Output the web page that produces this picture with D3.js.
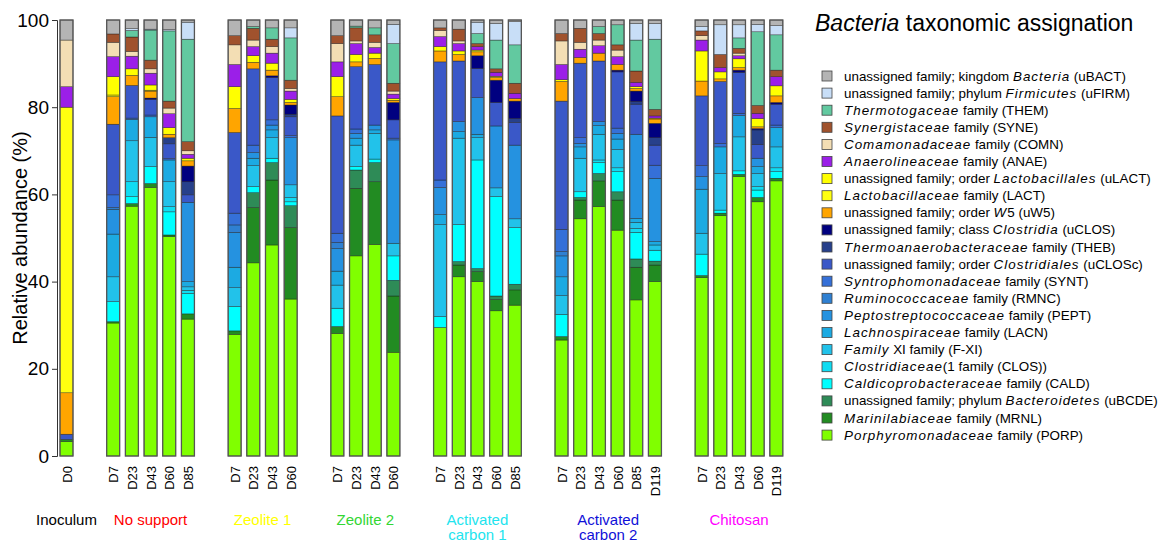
<!DOCTYPE html>
<html><head><meta charset="utf-8">
<script src="https://cdn.jsdelivr.net/npm/d3@7"></script>
<style>body{margin:0;background:#fff;font-family:Arial,"Liberation Sans",sans-serif}</style>
</head><body><svg id="c" width="1165" height="543"></svg>
<script>
// ---- categories ----
const samples = ["D0",
 "D7","D23","D43","D60","D85",
 "D7","D23","D43","D60",
 "D7","D23","D43","D60",
 "D7","D23","D43","D60","D85",
 "D7","D23","D43","D60","D85","D119",
 "D7","D23","D43","D60","D119"];
const groupNames = ["Inoculum","No support","Zeolite 1","Zeolite 2","Activated\ncarbon 1","Activated\ncarbon 2","Chitosan"];
const groupSizes = [1,5,4,4,5,6,5];
const groupColors = ["#000000","#ff0000","#ffff00","#33d633","#22e4ee","#1010d8","#ff00ff"];
const yTicks = [0,20,40,60,80,100];

// ---- series values (% per sample, bottom to top) ----
const PORP  = [3.3, 30.5,57.3,61.6,50.3,31.4, 27.9,44.3,48.4,36.0, 28.1,45.9,48.5,23.8, 29.5,41.1,40.0,33.3,34.6, 26.6,54.4,57.2,51.8,35.8,40.0, 40.9,55.1,64.1,58.3,63.1];
const MRNL  = [0.5, 0.3,0.6,0.9,0.4,1.2, 0.8,12.7,14.9,16.4, 1.6,15.5,14.4,12.9, 0,2.7,2.3,2.6,3.5, 0.8,4.3,5.9,6.9,7.5,3.8, 0.5,0.6,0.5,1.0,0.6];
const uBCDE = [0, 0,0,0,0,0, 0,3.4,4.0,5.0, 0,4.2,4.4,3.6, 0,0.8,0.7,0.8,1.3, 0,0.6,1.7,1.9,1.9,0.9, 0,0,0,0,0];
const CALD  = [0, 4.6,1.6,3.9,5.3,4.7, 5.6,1.4,1.0,0.9, 4.2,0.8,0.8,5.6, 2.5,8.5,24.9,22.8,13.0, 5.1,1.3,2.5,4.6,6.1,2.5, 4.9,0.7,0.8,1.7,1.5];
const CLOS  = [0, 0,3.4,0,1.2,0.7, 0,0,0,1.0, 0,0,0,0, 0,0,0,0,0, 0,0,0.6,0.9,0.9,0, 0,0,0,0.8,0.9];
const FXI   = [0, 5.7,9.4,6.7,5.7,0.8, 4.3,4.8,4.7,2.9, 5.3,4.9,5.9,2.9, 21.1,19.8,5.1,2.0,2.0, 4.3,7.7,5.9,4.2,1.4,1.2, 4.8,8.4,7.8,3.0,4.8];
const LACN  = [0, 9.8,4.9,4.7,5.0,1.2, 4.7,1.7,1.8,0, 3.2,1.6,0.8,0, 2.3,1.5,0.8,0,0, 4.3,2.6,2.0,2.4,0.9,0.8, 10.1,6.1,4.9,1.6,4.4];
const PEPT  = [0, 5.7,0,0,0,18.2, 8.0,1.3,1.1,10.8, 5.2,1.1,1.1,23.7, 6.2,2.3,8.4,14.2,16.9, 4.8,0.8,0.9,1.3,19.3,14.5, 2.9,0,0,1.9,0];
const RMNC  = [0, 0.4,0,0,0,0, 1.7,0,0,0, 1.4,0,0,0, 0,0,0,0,0, 1.0,0,0,0,0,0, 0,0,0,0,0];
const SYNT  = [0, 2.9,0.3,0.4,0.3,0, 2.7,1.7,1.2,0.5, 2.1,1.0,0,0.4, 1.7,0,0,0,0, 5.1,1.3,0,1.2,0,3.0, 2.5,0.8,0.5,0,0.6];
const uCLOSc= [1.2, 16.2,7.5,3.6,3.4,1.7, 18.5,17.5,9.7,4.3, 26.9,14.3,13.9,4.2, 27.1,13.9,6.7,5.4,5.2, 29.4,17.1,13.9,12.9,6.9,4.6, 16.0,14.2,9.4,3.2,4.8];
const THEB  = [0, 0,0,0,1.4,3.0, 0,0,0,0.6, 0,0,0,0, 0,0,0,0,0.9, 0,0,0,0,0.6,1.7, 0,0,0,3.3,0];
const uCLOS = [0, 0,0,0.3,0,3.6, 0,0,0.4,2.1, 0,0,0,4.0, 0,0,2.9,5.1,4.0, 0,0,0,0.4,2.4,3.3, 0,0,0.5,0.3,0.4];
const uW5   = [9.5, 6.3,2.3,1.6,0.8,1.2, 5.5,1.5,1.3,0.6, 4.4,1.1,1.4,0.5, 2.5,1.5,0.9,0.6,0.6, 4.5,1.3,1.8,1.3,0.6,1.0, 3.4,0.6,0.6,0.4,1.5];
const LACT  = [65.5, 0.4,0,0.2,0,0, 0,0,0,0, 0,0,0,0, 0,0,0,0,0, 0,0,0,0,0,0, 0,0,0,0,0];
const uLACT = [0, 4.2,1.5,1.2,1.5,0.6, 5.0,1.5,1.6,0.7, 4.6,1.7,1.2,0.4, 1.0,0.8,0.4,0.3,0, 0.4,0,0,0,0.4,0.2, 6.9,1.6,2.0,1.9,2.3];
const ANAE  = [4.7, 4.6,2.9,2.7,3.2,0.9, 5.1,2.1,2.3,1.9, 3.4,2.5,1.3,1.0, 2.3,1.7,0.8,0.9,1.2, 3.5,1.9,1.7,1.8,1.0,0.5, 2.5,1.0,0.7,1.2,2.1];
const COMN  = [10.7, 3.3,1.1,1.0,1.3,0.8, 4.5,1.5,1.5,0.6, 4.2,0.6,1.2,0.7, 1.4,0.6,0,0,0, 5.4,1.6,1.3,1.5,0,0, 1.0,0,0.6,0,0];
const SYNE  = [0, 1.9,3.3,2.0,1.6,2.1, 2.1,2.7,1.7,1.9, 1.8,3.0,1.7,1.8, 0.6,2.7,0.7,0.8,2.3, 1.7,3.2,1.5,1.2,2.6,1.5, 1.1,3.0,1.1,1.8,1.5];
const THEM  = [0, 0,1.5,6.9,16.1,23.5, 0,0.4,2.6,9.7, 0,0.4,1.6,9.1, 0,0,2.3,6.6,8.8, 0,0,1.6,4.6,7.1,16.1, 0,0,2.4,16.9,8.1];
const uFIRM = [0, 0,0.4,0.2,0.3,3.9, 0,0,0,2.3, 0,0,0,4.4, 0,0,2.6,3.8,5.3, 0,0,0,0,3.8,3.6, 1.0,6.8,3.0,1.7,2.1];
const uBACT = [4.6, 3.2,2.0,2.1,2.2,0.5, 3.6,1.5,1.8,1.8, 3.6,1.4,1.8,1.0, 1.8,2.1,0.5,0.8,0.4, 3.1,1.9,1.5,1.1,0.8,0.8, 1.5,1.1,1.1,1.0,1.3];

// ---- series (top-to-bottom as in legend) ----
const seriesKeys = ["uBACT","uFIRM","THEM","SYNE","COMN","ANAE","uLACT","LACT","uW5","uCLOS","THEB","uCLOSc","SYNT","RMNC","PEPT","LACN","FXI","CLOS","CALD","uBCDE","MRNL","PORP"];
const seriesValues = {uBACT,uFIRM,THEM,SYNE,COMN,ANAE,uLACT,LACT,uW5,uCLOS,THEB,uCLOSc,SYNT,RMNC,PEPT,LACN,FXI,CLOS,CALD,uBCDE,MRNL,PORP};
const seriesColors = ["#b4b4b4","#c8def7","#62c9a0","#a0522d","#f3deb4","#9b1fe8","#ffff00","#ffff10","#ffa500","#000080","#27408b","#3a58c8","#3570d8","#2f80d2","#2592e0","#1caae2","#22c2ea","#10dcf2","#00ffff","#2e8b57","#228b22","#80ff00"];
const legendLabels = [
 [["unassigned family; kingdom ",0],["Bacteria",1],[" (uBACT)",0]],
 [["unassigned family; phylum ",0],["Firmicutes",1],[" (uFIRM)",0]],
 [["Thermotogaceae",1],[" family (THEM)",0]],
 [["Synergistaceae",1],[" family (SYNE)",0]],
 [["Comamonadaceae",1],[" family (COMN)",0]],
 [["Anaerolineaceae",1],[" family (ANAE)",0]],
 [["unassigned family; order ",0],["Lactobacillales",1],[" (uLACT)",0]],
 [["Lactobacillaceae",1],[" family (LACT)",0]],
 [["unassigned family; order ",0],["W",1],["5 (uW5)",0]],
 [["unassigned family; class ",0],["Clostridia",1],[" (uCLOS)",0]],
 [["Thermoanaerobacteraceae",1],[" family (THEB)",0]],
 [["unassigned family; order ",0],["Clostridiales",1],[" (uCLOSc)",0]],
 [["Syntrophomonadaceae",1],[" family (SYNT)",0]],
 [["Ruminococcaceae",1],[" family (RMNC)",0]],
 [["Peptostreptococcaceae",1],[" family (PEPT)",0]],
 [["Lachnospiraceae",1],[" family (LACN)",0]],
 [["Family",1],[" XI family (F-XI)",0]],
 [["Clostridiaceae",1],["(1 family (CLOS))",0]],
 [["Caldicoprobacteraceae",1],[" family (CALD)",0]],
 [["unassigned family; phylum ",0],["Bacteroidetes",1],[" (uBCDE)",0]],
 [["Marinilabiaceae",1],[" family (MRNL)",0]],
 [["Porphyromonadaceae",1],[" family (PORP)",0]]
];

const svg = d3.select("#c");
const font = "Arial, 'Liberation Sans', sans-serif";

// slot positions with gaps between groups
const slots = [];
{ let s = 0; groupSizes.forEach((n, g) => { for (let i = 0; i < n; i++) { slots.push(s); s += 1; } s += 1.5; }); }
const maxSlot = slots[slots.length - 1];
const x = d3.scaleLinear().domain([0, maxSlot]).range([60, 60 + maxSlot * 18.68]);
const barW = 13;
const y = d3.scaleLinear().domain([0, 100]).range([456, 20]);

const rows = samples.map((s, i) => { const r = {i}; seriesKeys.forEach(k => r[k] = seriesValues[k][i]); return r; });
const stackKeys = seriesKeys.slice().reverse();
const stacked = d3.stack().keys(stackKeys)(rows);
const colorOf = d3.scaleOrdinal().domain(seriesKeys).range(seriesColors);

svg.append("g").selectAll("g").data(stacked).join("g")
  .attr("fill", d => colorOf(d.key))
  .selectAll("rect").data(d => d.filter(p => p[1] - p[0] > 0)).join("rect")
  .attr("x", p => x(slots[p.data.i]))
  .attr("width", barW)
  .attr("y", p => y(Math.min(100, p[1])))
  .attr("height", p => Math.max(0, y(p[0]) - y(Math.min(100, p[1]))))
  .attr("stroke", "rgba(20,20,20,0.75)").attr("stroke-width", 0.5);

// bar outlines
svg.append("g").selectAll("rect").data(rows).join("rect")
  .attr("x", r => x(slots[r.i])).attr("width", barW)
  .attr("y", r => y(Math.min(100, d3.sum(seriesKeys, k => r[k]))))
  .attr("height", r => y(0) - y(Math.min(100, d3.sum(seriesKeys, k => r[k]))))
  .attr("fill", "none").attr("stroke", "#555").attr("stroke-width", 1.3);

// y axis
const yAxis = svg.append("g").attr("transform", "translate(57,0)")
  .call(d3.axisLeft(y).tickValues(yTicks).tickSize(5).tickPadding(3));
yAxis.select(".domain").attr("stroke", "#333");
yAxis.selectAll(".tick line").attr("stroke", "#333");
yAxis.selectAll("text").attr("font-size", 19).attr("font-family", font).attr("fill", "#000");
svg.append("text").attr("transform", "translate(27,238) rotate(-90)").attr("text-anchor", "middle")
  .attr("font-size", 20).attr("font-family", font).text("Relative abundance (%)");

// sample labels
svg.append("g").selectAll("text").data(samples).join("text")
  .attr("transform", (d, i) => `translate(${x(slots[i]) + barW / 2 + 5},466) rotate(-90)`)
  .attr("text-anchor", "end").attr("font-size", 13).attr("font-family", font).text(d => d);

// group labels
{ let start = 0;
  groupNames.forEach((name, g) => {
    const n = groupSizes[g];
    const cx = (x(slots[start]) + x(slots[start + n - 1]) + barW) / 2;
    const t = svg.append("text").attr("text-anchor", "middle").attr("font-size", 15)
      .attr("font-family", font).attr("fill", groupColors[g]);
    name.split("\n").forEach((line, li) => t.append("tspan").attr("x", cx).attr("y", 525 + li * 15).text(line));
    start += n;
  });
}

// legend
const title = svg.append("text").attr("x", 815).attr("y", 31).attr("font-size", 23).attr("font-family", font);
title.append("tspan").attr("font-style", "italic").text("Bacteria");
title.append("tspan").text(" taxonomic assignation");

const lg = svg.append("g").selectAll("g").data(seriesKeys).join("g")
  .attr("transform", (d, i) => `translate(822,${71 + i * 17.1})`);
lg.append("rect").attr("width", 10).attr("height", 10).attr("fill", d => colorOf(d)).attr("stroke", "#444").attr("stroke-width", 0.8);
lg.append("text").attr("x", 22).attr("y", 9.5).attr("font-size", 13.4).attr("font-family", font)
  .each(function (d, i) {
    const t = d3.select(this);
    legendLabels[i].forEach(([s, it]) => {
      const sp = t.append("tspan").text(s);
      if (it) sp.attr("font-style", "italic").attr("letter-spacing", 1.0);
    });
  });
</script></body></html>
